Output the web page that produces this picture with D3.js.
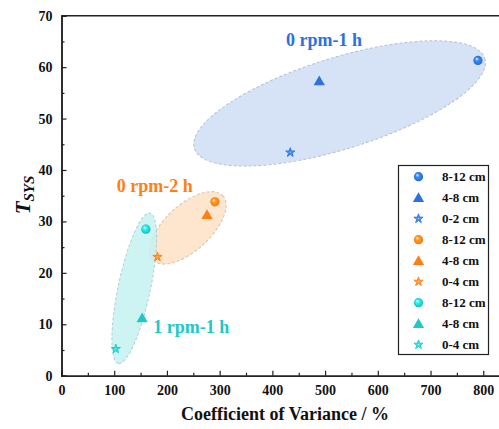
<!DOCTYPE html>
<html>
<head>
<meta charset="utf-8">
<script src="https://cdn.jsdelivr.net/npm/d3@7"></script>
<style>
  body { margin: 0; background: #fff; }
  svg { display: block; }
</style>
</head>
<body>
<script>
// data
var groups = ["0 rpm-1 h", "0 rpm-2 h", "1 rpm-1 h"];
var groupColors = ["#2a72e0", "#ff7f14", "#1ec8c8"];
var fillColors = ["#cfdef6", "#fde0c6", "#c6f1f1"];

var depths = [
  ["8-12 cm", "4-8 cm", "0-2 cm"],
  ["8-12 cm", "4-8 cm", "0-4 cm"],
  ["8-12 cm", "4-8 cm", "0-4 cm"]
];
var shapes = ["sphere", "triangle", "star"];

var cvValues = [
  [790, 489, 434],
  [291, 276, 182],
  [160, 153, 103]
];
var tsysValues = [
  [61.3, 57.3, 43.4],
  [33.8, 31.3, 23.1],
  [28.5, 11.2, 5.2]
];

// ellipse major-axis tips (x, y in data units) and minor/major ratio
var ellipseTips = [
  [[252, 44.2], [803, 61.7]],
  [[173, 22.5], [306, 35.0]],
  [[168, 31.6], [108, 2.4]]
];
var ellipseRatio = [0.30, 0.48, 0.21];

// label start point (data units)
var labelPos = [[426, 64.1], [105, 35.8], [174, 8.3]];

var xTicks = [0, 100, 200, 300, 400, 500, 600, 700, 800];
var yTicks = [0, 10, 20, 30, 40, 50, 60, 70];

var width = 499, height = 429;
var font = "'Liberation Serif', 'Times New Roman', serif";

var svg = d3.select("body").append("svg")
  .attr("width", width)
  .attr("height", height);

var x = d3.scaleLinear().domain([0, 850]).range([61.5, 509.6]);
var y = d3.scaleLinear().domain([0, 70]).range([375.7, 15.7]);

// gradients for the sphere markers
var defs = svg.append("defs");
groupColors.forEach(function (c, i) {
  var g = defs.append("radialGradient")
    .attr("id", "sph" + i)
    .attr("cx", "50%").attr("cy", "50%").attr("r", "55%")
    .attr("fx", "35%").attr("fy", "30%");
  g.append("stop").attr("offset", "0%").attr("stop-color", "#ffffff");
  g.append("stop").attr("offset", "35%").attr("stop-color", d3.color(c).brighter(0.6));
  g.append("stop").attr("offset", "80%").attr("stop-color", c);
  g.append("stop").attr("offset", "100%").attr("stop-color", d3.color(c).darker(0.6));
});

// ellipses
ellipseTips.forEach(function (t, i) {
  var x1 = x(t[0][0]), y1 = y(t[0][1]);
  var x2 = x(t[1][0]), y2 = y(t[1][1]);
  var a = Math.hypot(x2 - x1, y2 - y1) / 2;
  var ang = Math.atan2(y2 - y1, x2 - x1) * 180 / Math.PI;
  svg.append("ellipse")
    .attr("transform", "translate(" + (x1 + x2) / 2 + "," + (y1 + y2) / 2 + ") rotate(" + ang + ")")
    .attr("rx", a)
    .attr("ry", a * ellipseRatio[i])
    .style("fill", fillColors[i])
    .style("fill-opacity", 0.85)
    .style("stroke", d3.color(fillColors[i]).darker(0.4))
    .style("stroke-width", 1)
    .style("stroke-dasharray", "3,2");
});

// axes
var axisG = svg.append("g").attr("class", "axes");

axisG.append("g")
  .attr("transform", "translate(0," + y(0) + ")")
  .call(d3.axisBottom(x).tickValues(xTicks).tickSize(-5).tickPadding(9).tickFormat(d3.format("d")));
axisG.append("g")
  .attr("transform", "translate(0," + y(0) + ")")
  .call(d3.axisBottom(x).tickValues(d3.range(50, 850, 100)).tickSize(-3).tickFormat(""));

axisG.append("g")
  .attr("transform", "translate(" + x(0) + ",0)")
  .call(d3.axisLeft(y).tickValues(yTicks).tickSize(-5).tickPadding(9).tickFormat(d3.format("d")));
axisG.append("g")
  .attr("transform", "translate(" + x(0) + ",0)")
  .call(d3.axisLeft(y).tickValues(d3.range(5, 70, 10)).tickSize(-3).tickFormat(""));

// top frame line
axisG.append("line")
  .attr("x1", x(0)).attr("x2", width + 5)
  .attr("y1", y(70)).attr("y2", y(70))
  .style("stroke", "#222").style("stroke-width", 1.5);

axisG.selectAll(".domain").style("stroke", "#222").style("stroke-width", 1.5);
axisG.selectAll(".tick line").style("stroke", "#222").style("stroke-width", 1.2);
axisG.selectAll(".tick text")
  .style("font-family", font)
  .style("font-weight", "bold")
  .style("font-size", "14px")
  .style("fill", "#111");

// axis titles
svg.append("text")
  .attr("x", 285)
  .attr("y", 420)
  .attr("text-anchor", "middle")
  .style("font-family", font)
  .style("font-weight", "bold")
  .style("font-size", "18px")
  .style("fill", "#111")
  .text("Coefficient of Variance / %");

var yt = svg.append("text")
  .attr("transform", "translate(30,195) rotate(-90)")
  .attr("text-anchor", "middle")
  .style("font-family", font)
  .style("font-weight", "bold")
  .style("font-style", "italic")
  .style("fill", "#111");
yt.append("tspan").style("font-size", "21px").text("T");
yt.append("tspan").style("font-size", "15px").attr("dy", 4).text("SYS");

// marker drawing
function drawMarker(g, shape, i) {
  var c = groupColors[i];
  if (shape === "sphere") {
    g.append("circle").attr("r", 4.6).style("fill", "url(#sph" + i + ")");
  } else if (shape === "triangle") {
    g.append("path")
      .attr("d", d3.symbol().type(d3.symbolTriangle).size(55)())
      .attr("transform", "translate(0,1)")
      .style("fill", c);
  } else {
    g.append("path")
      .attr("d", d3.symbol().type(d3.symbolStar).size(26)())
      .style("fill", d3.color(c).brighter(0.8))
      .style("fill-opacity", 0.5)
      .style("stroke", c)
      .style("stroke-width", 1);
    g.append("path")
      .attr("d", d3.symbol().type(d3.symbolStar).size(6)())
      .style("fill", "none")
      .style("stroke", c)
      .style("stroke-width", 0.7);
  }
}

// points
groups.forEach(function (grp, i) {
  cvValues[i].forEach(function (v, j) {
    var g = svg.append("g")
      .attr("transform", "translate(" + x(v) + "," + y(tsysValues[i][j]) + ")");
    drawMarker(g, shapes[j], i);
  });
});

// group labels
groups.forEach(function (grp, i) {
  svg.append("text")
    .attr("x", x(labelPos[i][0]))
    .attr("y", y(labelPos[i][1]))
    .style("font-family", font)
    .style("font-weight", "bold")
    .style("font-size", "18px")
    .style("fill", groupColors[i])
    .text(grp);
});

// legend
var legend = svg.append("g").attr("class", "legend");
legend.append("rect")
  .attr("x", 398.5).attr("y", 165.5)
  .attr("width", 90).attr("height", 189)
  .style("fill", "#fff")
  .style("stroke", "#222")
  .style("stroke-width", 1.2);

var legendRows = [];
groups.forEach(function (grp, i) {
  depths[i].forEach(function (d, j) { legendRows.push({ label: d, shape: shapes[j], gi: i }); });
});

var items = legend.selectAll("g.item")
  .data(legendRows)
  .enter().append("g")
  .attr("class", "item")
  .attr("transform", function (d, k) { return "translate(0," + (176.7 + k * 21) + ")"; });

items.each(function (d) {
  var m = d3.select(this).append("g").attr("transform", "translate(418.5,0)");
  drawMarker(m, d.shape, d.gi);
});

items.append("text")
  .attr("x", 442)
  .attr("y", 0)
  .attr("dy", "0.35em")
  .style("font-family", font)
  .style("font-weight", "bold")
  .style("font-size", "13px")
  .style("fill", "#111")
  .text(function (d) { return d.label; });
</script>
</body>
</html>
